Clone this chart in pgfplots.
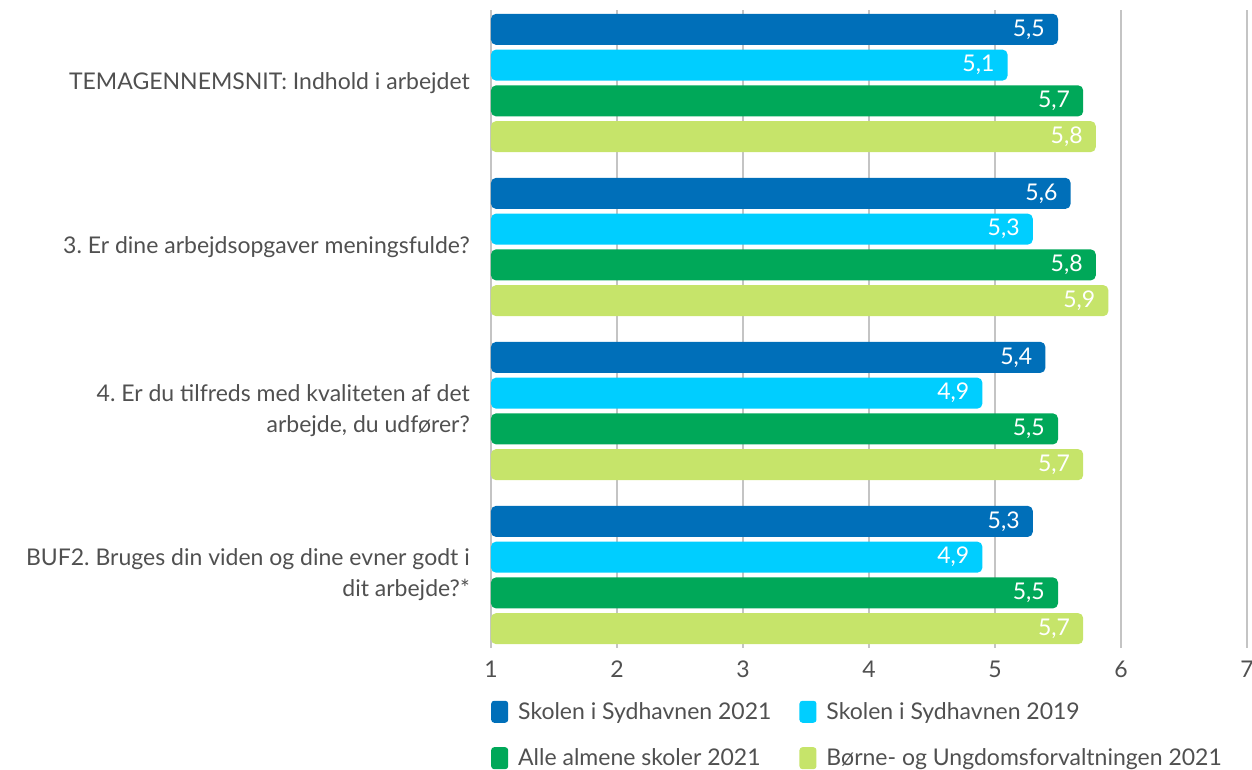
\documentclass[border=0pt]{standalone}
\usepackage{pgfplots}
\pgfplotsset{compat=1.18}
\usepackage{fontspec}
\setmainfont{Lato}
\definecolor{cA}{RGB}{0,111,185}
\definecolor{cB}{RGB}{0,206,255}
\definecolor{cC}{RGB}{0,168,89}
\definecolor{cD}{RGB}{198,228,106}
\definecolor{txt}{RGB}{80,80,80}
\definecolor{gridc}{RGB}{196,196,196}
\pgfplotsset{
  mybar/.style={fill=#1, draw=none, rounded corners=5pt,
    legend image code/.code={\fill[#1, rounded corners=3pt] (0pt,-11pt) rectangle (17pt,11pt);}},
}
\frenchspacing
\begin{document}
\begin{tikzpicture}[font=\fontsize{23}{31}\selectfont]
\begin{axis}[
  scale only axis, width=756pt, height=638pt,
  xmin=1, xmax=7, ymin=-0.445, ymax=3.445, y dir=reverse,
  xtick={1,2,3,4,5,6,7}, ytick={0,1,2,3},
  yticklabels={{TEMAGENNEMSNIT: Indhold i arbejdet},{3. Er dine arbejdsopgaver meningsfulde?},{4. Er du tilfreds med kvaliteten af det\\arbejde, du udfører?},{BUF2. Bruges din viden og dine evner godt i\\dit arbejde?*}},
  yticklabel style={align=right, text=txt, inner sep=0pt, xshift=-21pt},
  xticklabel style={text=txt, yshift=-9pt},
  major tick length=0pt,
  axis line style={draw=none},
  xmajorgrids, grid style={gridc, line width=1.5pt},
  xbar, bar width=0.189,
  /pgf/number format/.cd, use comma, assume math mode=true,
  /pgfplots/.cd,
  nodes near coords={\pgfmathprintnumber[fixed, fixed zerofill, precision=1, use comma, assume math mode=true]{\pgfplotspointmeta}},
  every node near coord/.append style={anchor=east, text=white, inner sep=0pt, xshift=-13pt},
  legend columns=2,
  legend cell align=left,
  legend style={draw=none, fill=none, at={(0,-0.082)}, anchor=north west, inner sep=0pt,
    text=txt, row sep=24pt,
    /tikz/every odd column/.append style={column sep=8pt},
    /tikz/every even column/.append style={column sep=26pt}},
]
\addplot[mybar=cA, bar shift=-0.327] coordinates {(5.5,0) (5.6,1) (5.4,2) (5.3,3)};
\addlegendentry{Skolen i Sydhavnen 2021}
\addplot[mybar=cB, bar shift=-0.109] coordinates {(5.1,0) (5.3,1) (4.9,2) (4.9,3)};
\addlegendentry{Skolen i Sydhavnen 2019}
\addplot[mybar=cC, bar shift=0.109] coordinates {(5.7,0) (5.8,1) (5.5,2) (5.5,3)};
\addlegendentry{Alle almene skoler 2021}
\addplot[mybar=cD, bar shift=0.327] coordinates {(5.8,0) (5.9,1) (5.7,2) (5.7,3)};
\addlegendentry{Børne- og Ungdomsforvaltningen 2021}
\end{axis}
\pgfresetboundingbox
\useasboundingbox ([xshift=-491pt,yshift=-121pt]current axis.south west) rectangle ([xshift=5pt,yshift=10pt]current axis.north east);
\end{tikzpicture}
\end{document}
